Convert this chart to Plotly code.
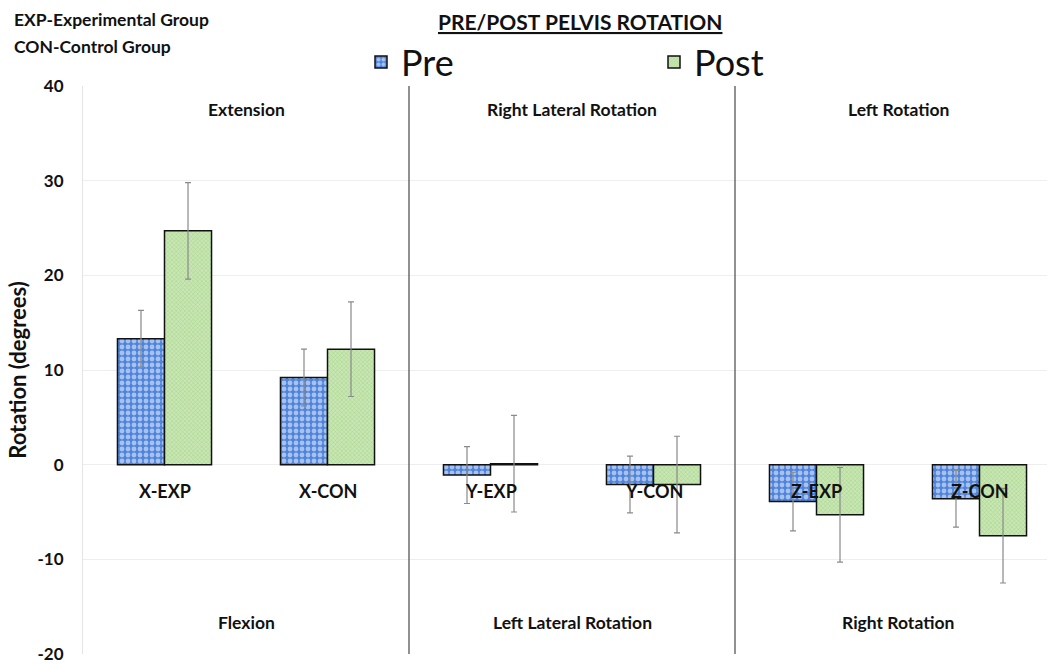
import plotly.graph_objects as go

# Pelvis rotation data (degrees) per axis and group
categories = ["X-EXP", "X-CON", "Y-EXP", "Y-CON", "Z-EXP", "Z-CON"]
pre_values = [13.3, 9.2, -1.1, -2.1, -3.9, -3.6]
post_values = [24.7, 12.2, 0.1, -2.1, -5.3, -7.5]
pre_errors = [3.0, 3.0, 3.0, 3.0, 3.1, 3.0]
post_errors = [5.1, 5.0, 5.1, 5.1, 5.0, 5.0]

y_ticks = [-20, -10, 0, 10, 20, 30, 40]
y_tick_labels = ["-20", "-10", "0", "10", "20", "30", "40"]

top_regions = ["Extension", "Right Lateral Rotation", "Left Rotation"]
bottom_regions = ["Flexion", "Left Lateral Rotation", "Right Rotation"]
region_centers = [0.5, 2.5, 4.5]
divider_positions = [1.5, 3.5]

FONT = "Lato"
W, H = 1047, 664
L, R, T, B = 83, 0, 86, 7
plot_w = W - L - R
plot_h = H - T - B


def px_x(px):
    return (px - L) / plot_w


def px_y(py):
    return (H - B - py) / plot_h


fig = go.Figure()

fig.add_trace(go.Bar(
    name="Pre", x=categories, y=pre_values,
    marker=dict(color="#4f84dc",
                line=dict(color="#111111", width=1.5),
                pattern=dict(shape=".", fgcolor="white", bgcolor="#4f84dc",
                             size=6, solidity=0.5, fillmode="overlay")),
    error_y=dict(type="data", array=pre_errors, color="#8a8a8a",
                 thickness=1.2, width=3),
))
fig.add_trace(go.Bar(
    name="Post", x=categories, y=post_values,
    marker=dict(color="#b4dc9a",
                line=dict(color="#111111", width=1.5),
                pattern=dict(shape="x", fgcolor="#7fb862", bgcolor="#c8e7b3",
                             size=3, solidity=0.3, fillmode="overlay")),
    error_y=dict(type="data", array=post_errors, color="#8a8a8a",
                 thickness=1.2, width=3),
))

annotations = []
# group labels beneath the zero line
for c in categories:
    annotations.append(dict(x=c, y=-2.8, xref="x", yref="y", text=f"<b>{c}</b>",
                            yanchor="middle", showarrow=False,
                            font=dict(family=FONT, size=18, color="#111111")))
# direction labels for each region
for xc, txt in zip(region_centers, top_regions):
    annotations.append(dict(x=xc, y=37.5, xref="x", yref="y", text=f"<b>{txt}</b>",
                            yanchor="middle", showarrow=False,
                            font=dict(family=FONT, size=17.5, color="#111111")))
for xc, txt in zip(region_centers, bottom_regions):
    annotations.append(dict(x=xc, y=-16.7, xref="x", yref="y", text=f"<b>{txt}</b>",
                            yanchor="middle", showarrow=False,
                            font=dict(family=FONT, size=17.5, color="#111111")))
# title and group key
annotations.append(dict(x=px_x(580), y=px_y(21), xref="paper", yref="paper",
                        yanchor="middle", text="<b><u>PRE/POST PELVIS ROTATION</u></b>",
                        showarrow=False, font=dict(family=FONT, size=21, color="#111111")))
annotations.append(dict(x=px_x(12), y=px_y(19), xref="paper", yref="paper", xanchor="left",
                        yanchor="middle", text="<b>EXP-Experimental Group</b>", showarrow=False,
                        font=dict(family=FONT, size=17.5, color="#111111")))
annotations.append(dict(x=px_x(12), y=px_y(46), xref="paper", yref="paper", xanchor="left",
                        yanchor="middle", text="<b>CON-Control Group</b>", showarrow=False,
                        font=dict(family=FONT, size=17.5, color="#111111")))

shapes = [dict(type="line", x0=d, x1=d, y0=0, y1=1, xref="x", yref="paper",
               line=dict(color="#555555", width=1.3)) for d in divider_positions]

fig.update_layout(
    width=W, height=H,
    margin=dict(l=L, r=R, t=T, b=B),
    paper_bgcolor="white", plot_bgcolor="white",
    barmode="group", bargap=0.423, bargroupgap=0,
    annotations=annotations, shapes=shapes,
    font=dict(family=FONT, color="#111111"),
    legend=dict(orientation="h", x=px_x(361), y=px_y(62), xanchor="left", yanchor="middle",
                entrywidth=248, entrywidthmode="pixels",
                font=dict(family=FONT, size=36, color="#111111"),
                bgcolor="rgba(0,0,0,0)"),
    xaxis=dict(type="category", range=[-0.5, -0.5 + plot_w / 163.0],
               showticklabels=False, showgrid=False, zeroline=False,
               showline=False, ticks=""),
    yaxis=dict(range=[-20, 40], tickmode="array", tickvals=y_ticks, ticktext=y_tick_labels,
               showgrid=True, gridcolor="#eeeeee",
               gridwidth=1, zeroline=False, showline=True, linecolor="#e4e4e4",
               ticks="", ticklabelstandoff=15, ticklabeloverflow="allow",
               tickfont=dict(family=FONT, size=17, color="#111111", weight="bold"),
               title=dict(text="<b>Rotation (degrees)</b>", standoff=4,
                          font=dict(family=FONT, size=22, color="#111111"))),
)

fig.write_html("out.html")
